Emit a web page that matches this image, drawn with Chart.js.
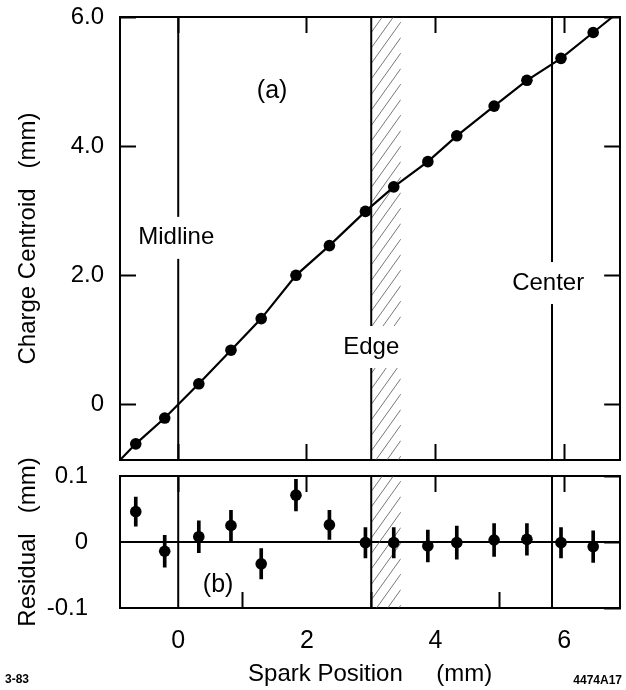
<!DOCTYPE html>
<html><head><meta charset="utf-8">
<script src="https://cdn.jsdelivr.net/npm/chart.js@4.4.1/dist/chart.umd.min.js"></script>
<style>
html,body{margin:0;padding:0;background:#fff;width:626px;height:690px;overflow:hidden}
canvas{position:absolute;left:0}
#topC{top:0}
#botC{top:440px}
</style></head><body>
<canvas id="topC" width="626" height="470"></canvas>
<canvas id="botC" width="626" height="250"></canvas>
<script>
// ---- data ----
const sparkPos    = [-0.66,-0.21,0.32,0.82,1.29,1.83,2.35,2.91,3.35,3.88,4.33,4.91,5.42,5.95,6.45];
const centroid    = [-0.61,-0.21,0.32,0.84,1.33,2.00,2.46,2.99,3.37,3.76,4.16,4.62,5.02,5.36,5.76];
const fitStartX = -0.905, fitStartY = -0.86;
const fitEndX = 6.75, fitEndY = 6.0;
const residual    = [0.046,-0.014,0.008,0.025,-0.033,0.071,0.026,-0.001,-0.001,-0.006,-0.001,0.003,0.004,-0.001,-0.007];
const residualErr = [0.022,0.024,0.024,0.023,0.023,0.024,0.022,0.023,0.023,0.024,0.025,0.025,0.024,0.023,0.024];
const xTicks = [0,2,4,6];
const centroidTicks = [0,2,4,6];
const residualTicks = [-0.1,0,0.1];
const markerX = [0, 3.0, 5.81];
const markerLabels = ['Midline','Edge','Center'];
const edgeBand = [3.0, 3.46];

// ---- layout / style (not data) ----
const FONT = "'Liberation Sans', Arial, sans-serif";
const X_MIN = -0.905, X_MAX = 6.87;
const markerLabelY = [2.58, 0.89, 1.88];
const markerLabelDX = [-0.03, 0, -0.06];

function fixTicks(arr){ return s => { s.ticks = arr.map(v => ({value: v})); }; }
function noPad(s){ s.paddingTop = 0; s.paddingBottom = 0; s.paddingLeft = 0; s.paddingRight = 0; }
function hAxis(pos, h, showLabels){
  return {
    type:'linear', position:pos, min:X_MIN, max:X_MAX,
    afterBuildTicks: fixTicks(xTicks),
    afterFit: s => { s.height = h; noPad(s); },
    ticks:{display:showLabels, color:'#000', padding:34, font:{family:FONT, size:25}, callback:v=>String(v)},
    grid:{drawOnChartArea:false, drawTicks:true, tickLength:-16, tickWidth:2, tickColor:'#000'},
    border:{display:true, color:'#000', width:2}
  };
}
function vAxis(pos, w, min, max, ticks, showLabels, title, cb){
  return {
    type:'linear', position:pos, min:min, max:max,
    afterBuildTicks: fixTicks(ticks),
    afterFit: s => { s.width = w; noPad(s); },
    ticks:{display:showLabels, color:'#000', padding:32, font:{family:FONT, size:24}, callback:cb},
    grid:{drawOnChartArea:false, drawTicks:true, tickLength:-16, tickWidth:2, tickColor:'#000'},
    border:{display:true, color:'#000', width:2},
    title: title ? {display:true, text:title, color:'#000', font:{family:FONT, size:24}, padding:{top:14,bottom:0}} : {display:false}
  };
}

// plugin: reference lines, hatched edge band and their labels
function markersPlugin(withLabels, extraLabels){
  return {
    id:'markers',
    beforeDatasetsDraw(chart){
      const {ctx, chartArea:a, scales} = chart;
      const xs = scales.x, ys = scales.y;
      ctx.save();
      ctx.beginPath(); ctx.rect(a.left, a.top, a.right-a.left, a.bottom-a.top); ctx.clip();
      // hatch
      const b0 = xs.getPixelForValue(edgeBand[0]), b1 = xs.getPixelForValue(edgeBand[1]);
      ctx.save();
      ctx.beginPath(); ctx.rect(b0, a.top, b1-b0, a.bottom-a.top); ctx.clip();
      ctx.strokeStyle = '#555'; ctx.lineWidth = 0.8;
      const w = b1-b0, rise = w*1.4;
      for (let y = a.top - rise; y < a.bottom + rise; y += 15.5){
        ctx.beginPath(); ctx.moveTo(b0, y + rise); ctx.lineTo(b1, y); ctx.stroke();
      }
      ctx.restore();
      // vertical lines
      ctx.strokeStyle = '#000'; ctx.lineWidth = 2;
      markerX.forEach(v => {
        const px = xs.getPixelForValue(v);
        ctx.beginPath(); ctx.moveTo(px, a.top); ctx.lineTo(px, a.bottom); ctx.stroke();
      });
      ctx.font = '24px ' + FONT; ctx.textAlign = 'center'; ctx.textBaseline = 'middle';
      if (withLabels){
        markerLabels.forEach((t,i) => {
          const px = xs.getPixelForValue(markerX[i] + markerLabelDX[i]);
          const py = ys.getPixelForValue(markerLabelY[i]);
          const tw = ctx.measureText(t).width;
          ctx.fillStyle = '#fff';
          ctx.fillRect(px - tw/2 - 3, py - 21, tw + 6, 42);
          ctx.fillStyle = '#000';
          ctx.fillText(t, px, py);
        });
      }
      ctx.fillStyle = '#000';
      ctx.font = '25px ' + FONT;
      extraLabels.forEach(l => {
        ctx.fillText(l.text, xs.getPixelForValue(l.x), ys.getPixelForValue(l.y));
      });
      ctx.restore();
    }
  };
}

// plugin: residual axis title (wider than its short panel) and figure codes
const footerPlugin = {
  id:'footer',
  afterDraw(chart){
    const ctx = chart.ctx, a = chart.chartArea;
    ctx.save();
    ctx.fillStyle = '#000';
    ctx.save();
    ctx.translate(28, (a.top + a.bottom) / 2);
    ctx.rotate(-Math.PI / 2);
    ctx.font = '24px ' + FONT;
    ctx.textAlign = 'center';
    ctx.textBaseline = 'middle';
    ctx.fillText('Residual   (mm)', 0, 0);
    ctx.restore();
    ctx.font = 'bold 12px ' + FONT;
    ctx.textBaseline = 'middle';
    ctx.textAlign = 'left';
    ctx.fillText('3-83', 5, 240);
    ctx.textAlign = 'right';
    ctx.fillText('4474A17', 622, 241);
    ctx.restore();
  }
};

const common = {
  responsive:false, maintainAspectRatio:false, animation:false, devicePixelRatio:1,
  layout:{padding:0},
  plugins:{legend:{display:false}, tooltip:{enabled:false}}
};

// top panel (a)
new Chart(document.getElementById('topC'), {
  type:'scatter',
  data:{datasets:[
    {label:'Charge centroid', data: sparkPos.map((x,i)=>({x, y: centroid[i]})),
     pointRadius:5.8, pointBackgroundColor:'#000', pointBorderColor:'#000', pointBorderWidth:0, showLine:false},
    {label:'Fit', data: [{x:fitStartX, y:fitStartY}].concat(sparkPos.map((x,i)=>({x, y: centroid[i]})), [{x:fitEndX, y:fitEndY}]),
     showLine:true, borderColor:'#000', borderWidth:2.2, pointRadius:0, tension:0, clip:0}
  ]},
  options: Object.assign({}, common, {
    scales:{
      x: hAxis('bottom', 10, false),
      x2: hAxis('top', 17, false),
      y: vAxis('left', 120, -0.86, 6.0, centroidTicks, true, 'Charge Centroid   (mm)', v => v===0 ? '0' : v.toFixed(1)),
      y2: vAxis('right', 1.5, -0.86, 6.0, centroidTicks, false, null, v => v)
    }
  }),
  plugins:[markersPlugin(true, [{text:'(a)', x:1.46, y:4.85}])]
});

// bottom panel (b)
const botX = hAxis('bottom', 82, true);
botX.title = {display:true, text:'Spark Position     (mm)', color:'#000', font:{family:FONT, size:24}, padding:{top:0,bottom:1}};
const botY = vAxis('left', 120, -0.1, 0.1, residualTicks, true, null, v => v===0 ? '0' : v.toFixed(1));
botY.grid = {drawOnChartArea:true, drawTicks:false, lineWidth:2, color: c => (c.tick && c.tick.value===0) ? '#000' : 'rgba(0,0,0,0)'};
new Chart(document.getElementById('botC'), {
  type:'scatter',
  data:{datasets:[
    {label:'Residual', data: sparkPos.map((x,i)=>({x, y: residual[i]})),
     pointRadius:5.8, pointBackgroundColor:'#000', pointBorderColor:'#000', pointBorderWidth:0, showLine:false},
    {type:'bar', label:'Error', data: sparkPos.map((x,i)=>({x, y:[residual[i]-residualErr[i], residual[i]+residualErr[i]]})),
     backgroundColor:'#000', borderWidth:0, barThickness:3, grouped:false}
  ]},
  options: Object.assign({}, common, {
    scales:{
      x: Object.assign(botX, {offset:false}),
      x2: Object.assign(hAxis('top', 36, false), {offset:false}),
      y: botY,
      y2: vAxis('right', 1.5, -0.1, 0.1, residualTicks, false, null, v => v)
    }
  }),
  plugins:[markersPlugin(false, [{text:'(b)', x:0.62, y:-0.065}]), footerPlugin]
});
</script>
</body></html>
